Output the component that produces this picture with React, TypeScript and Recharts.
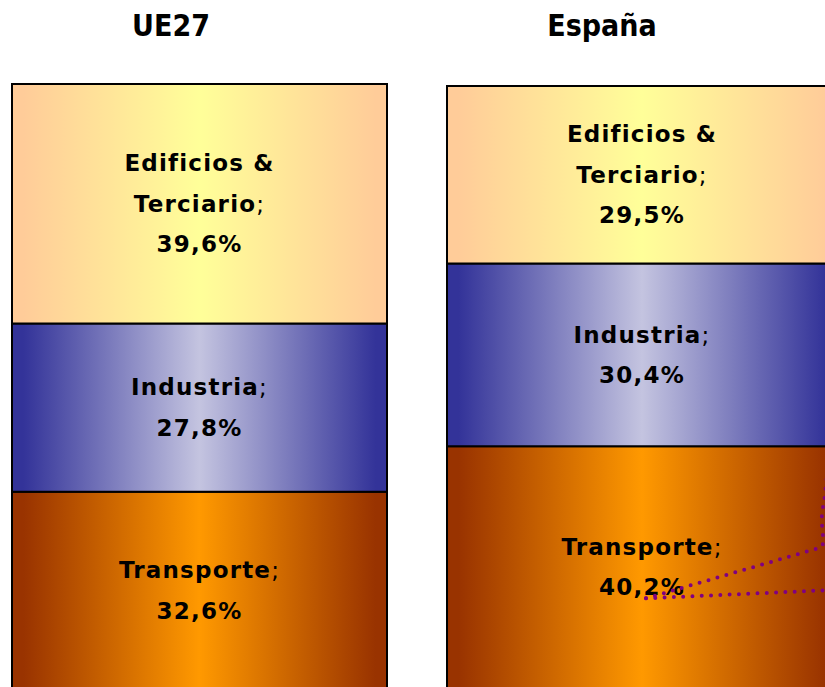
import React from "react";
import { BarChart, Bar, XAxis, YAxis, LabelList } from "recharts";

const categories = ["UE27", "España"];
const transporte = [32.6, 40.2];
const industria = [27.8, 30.4];
const edificios = [39.6, 29.5];

const sectorLines: Record<string, string[]> = {
  edificios: ["Edificios &", "Terciario"],
  industria: ["Industria"],
  transporte: ["Transporte"],
};

const gradients = {
  edificios: { edge: "#FFCC99", center: "#FFFF99" },
  industria: { edge: "#333399", center: "#C4C4E0" },
  transporte: { edge: "#993300", center: "#FF9900" },
};

const labelFont = "'DejaVu Sans', Verdana, sans-serif";
const titleFont = "'DejaVu Sans Condensed', 'DejaVu Sans', sans-serif";

const fmt = (v: number) => v.toFixed(1).replace(".", ",") + "%";

function makeLabel(key: string, leader: boolean) {
  return (props: any) => {
    const vb = props.viewBox || {};
    const x = props.x ?? vb.x;
    const y = props.y ?? vb.y;
    const width = props.width ?? vb.width;
    const height = props.height ?? vb.height;
    const value = props.value;
    const lines = sectorLines[key];
    const all = [...lines, fmt(Number(value))];
    const n = all.length;
    const spacing = 40.5;
    const cx = x + width / 2;
    const cy = y + height / 2;
    const lastBaseline = cy + ((n - 1) / 2) * spacing + 8;
    const sx = cx + 4;
    const sy = lastBaseline + 3;
    return (
      <g>
        {all.map((t, i) => {
          const base = cy + (i - (n - 1) / 2) * spacing + 8;
          const isLastWord = i === n - 2;
          return (
            <text
              key={i}
              x={cx}
              y={base}
              textAnchor="middle"
              fontFamily={labelFont}
              fontSize={23}
              fontWeight="bold"
              letterSpacing={1.2}
              fill="#000"
            >
              {t}
              {isLastWord ? <tspan fontWeight="normal">;</tspan> : null}
            </text>
          );
        })}
        {leader ? (
          <g fill="none" stroke="#800080" strokeWidth={4} strokeLinecap="round" strokeDasharray="0 9.3">
            <path d={`M ${sx} ${sy} L ${sx + 175} ${sy - 51} C ${sx + 181} ${sy - 56} ${sx + 172} ${sy - 76} ${sx + 178} ${sy - 95} L ${sx + 184} ${sy - 150}`} />
            <path d={`M ${sx} ${sy} L ${sx + 200} ${sy - 9}`} />
          </g>
        ) : null}
      </g>
    );
  };
}

function Gradients({ prefix }: { prefix: string }) {
  return (
    <defs>
      {Object.entries(gradients).map(([k, g]) => (
        <linearGradient key={k} id={`${prefix}-${k}`} x1="0" y1="0" x2="1" y2="0">
          <stop offset="0" stopColor={g.edge} />
          <stop offset="0.03" stopColor={g.edge} />
          <stop offset="0.5" stopColor={g.center} />
          <stop offset="0.97" stopColor={g.edge} />
          <stop offset="1" stopColor={g.edge} />
        </linearGradient>
      ))}
    </defs>
  );
}

function Column({ idx, plotW, plotH, top, leader }: { idx: number; plotW: number; plotH: number; top: number; leader: boolean }) {
  const row = {
    name: categories[idx],
    transporte: transporte[idx],
    industria: industria[idx],
    edificios: edificios[idx],
  };
  const total = row.transporte + row.industria + row.edificios;
  const margin = { top, left: 4, right: 10, bottom: 10 };
  const prefix = `g${idx}`;
  return (
    <BarChart
      width={plotW + margin.left + margin.right}
      height={plotH + margin.top + margin.bottom}
      data={[row]}
      margin={margin}
      barCategoryGap={0}
    >
      <Gradients prefix={prefix} />
      <XAxis dataKey="name" hide />
      <YAxis hide domain={[0, total]} type="number" />
      {(["transporte", "industria", "edificios"] as const).map((k) => (
        <Bar
          key={k}
          dataKey={k}
          stackId="a"
          fill={`url(#${prefix}-${k})`}
          stroke="#000"
          strokeWidth={2}
          isAnimationActive={false}
        >
          <LabelList dataKey={k} content={makeLabel(k, leader && k === "transporte")} />
        </Bar>
      ))}
    </BarChart>
  );
}

export default function App() {
  return (
    <div style={{ position: "fixed", left: 0, top: 0, width: 825, height: 687, overflow: "hidden", background: "#fff" }}>
      <div style={{ position: "absolute", left: 8, top: 8 }}>
        <Column idx={0} plotW={375} plotH={605} top={76} leader={false} />
      </div>
      <div style={{ position: "absolute", left: 443, top: 8 }}>
        <Column idx={1} plotW={390} plotH={602} top={78} leader={true} />
      </div>
      <svg width={825} height={70} style={{ position: "absolute", left: 0, top: 0 }}>
        <text x={171} y={36} textAnchor="middle" fontFamily={titleFont} fontSize={30} fontWeight="bold" fill="#000">
          {categories[0]}
        </text>
        <text x={602} y={36} textAnchor="middle" fontFamily={titleFont} fontSize={30} fontWeight="bold" fill="#000">
          {categories[1]}
        </text>
      </svg>
    </div>
  );
}
